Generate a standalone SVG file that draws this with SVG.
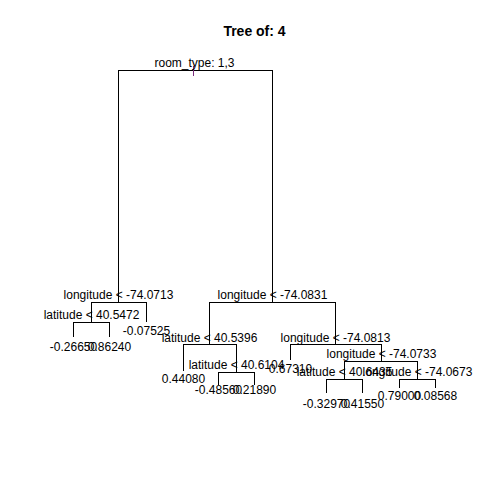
<svg xmlns="http://www.w3.org/2000/svg" width="480" height="480" viewBox="0 0 480 480">
  <style>
    .edge { stroke: #000; stroke-width: 1; fill: none; shape-rendering: crispEdges; }
    .lbl { font-family: "Liberation Sans", Arial, sans-serif; font-size: 12px; fill: #000; text-anchor: middle; }
    .title { font-family: "Liberation Sans", Arial, sans-serif; font-size: 14px; font-weight: bold; fill: #000; text-anchor: middle; }
  </style>
  <rect width="480" height="480" fill="#fff"/>
  <text class="title" x="254.5" y="36">Tree of: 4</text>

  <!-- tree branches: each split is an upside-down U -->
  <g id="connectors">
    <!-- root split -->
    <path class="edge" d="M118.5,302.5 V70.5 H272.5 V302.5"/>
    <line x1="193.5" y1="66" x2="193.5" y2="76" stroke="#7b2d7b" stroke-width="1" shape-rendering="crispEdges"/>
    <!-- longitude < -74.0713 -->
    <path class="edge" d="M91.5,322.5 V302.5 H146.5 V322"/>
    <!-- latitude < 40.5472 -->
    <path class="edge" d="M73.5,337 V322.5 H109.5 V337"/>
    <!-- longitude < -74.0831 -->
    <path class="edge" d="M209.5,344.5 V302.5 H335.5 V344.5"/>
    <!-- latitude < 40.5396 -->
    <path class="edge" d="M183.5,371 V344.5 H236.5 V372.5"/>
    <!-- latitude < 40.6104 -->
    <path class="edge" d="M218.5,385 V372.5 H254.5 V385"/>
    <!-- longitude < -74.0813 -->
    <path class="edge" d="M290.5,360 V344.5 H381.5 V361.5"/>
    <!-- longitude < -74.0733 -->
    <path class="edge" d="M344.5,379.5 V361.5 H417.5 V379.5"/>
    <!-- latitude < 40.6435 -->
    <path class="edge" d="M326.5,393 V379.5 H362.5 V393"/>
    <!-- longitude < -74.0673 -->
    <path class="edge" d="M399.5,388 V379.5 H435.5 V388"/>
  </g>

  <!-- split nodes -->
  <g id="n-root"><text class="lbl" x="194.5" y="67">room_type: 1,3</text></g>
  <g id="n-lon-740713"><text class="lbl" x="118.5" y="299">longitude &lt; -74.0713</text></g>
  <g id="n-lat-405472"><text class="lbl" x="91.5" y="319">latitude &lt; 40.5472</text></g>
  <g id="n-lon-740831"><text class="lbl" x="272.5" y="299">longitude &lt; -74.0831</text></g>
  <g id="n-lat-405396"><text class="lbl" x="209.5" y="342">latitude &lt; 40.5396</text></g>
  <g id="n-lat-406104"><text class="lbl" x="236.5" y="369">latitude &lt; 40.6104</text></g>
  <g id="n-lon-740813"><text class="lbl" x="335.5" y="342">longitude &lt; -74.0813</text></g>
  <g id="n-lon-740733"><text class="lbl" x="381.5" y="358">longitude &lt; -74.0733</text></g>
  <g id="n-lat-406435"><text class="lbl" x="344.5" y="376">latitude &lt; 40.6435</text></g>
  <g id="n-lon-740673"><text class="lbl" x="417.5" y="376">longitude &lt; -74.0673</text></g>

  <!-- leaves -->
  <g id="leaf-1"><text class="lbl" x="73.5" y="351">-0.26650</text></g>
  <g id="leaf-2"><text class="lbl" x="109.5" y="351">0.86240</text></g>
  <g id="leaf-3"><text class="lbl" x="146.5" y="335">-0.07525</text></g>
  <g id="leaf-4"><text class="lbl" x="183.5" y="383">0.44080</text></g>
  <g id="leaf-5"><text class="lbl" x="218.5" y="394">-0.48560</text></g>
  <g id="leaf-6"><text class="lbl" x="254.5" y="394">0.21890</text></g>
  <g id="leaf-7"><text class="lbl" x="290.5" y="373">0.67310</text></g>
  <g id="leaf-8"><text class="lbl" x="326.5" y="408">-0.32970</text></g>
  <g id="leaf-9"><text class="lbl" x="362.5" y="408">0.41550</text></g>
  <g id="leaf-10"><text class="lbl" x="399.5" y="400">0.79000</text></g>
  <g id="leaf-11"><text class="lbl" x="435.5" y="400">0.08568</text></g>
</svg>
